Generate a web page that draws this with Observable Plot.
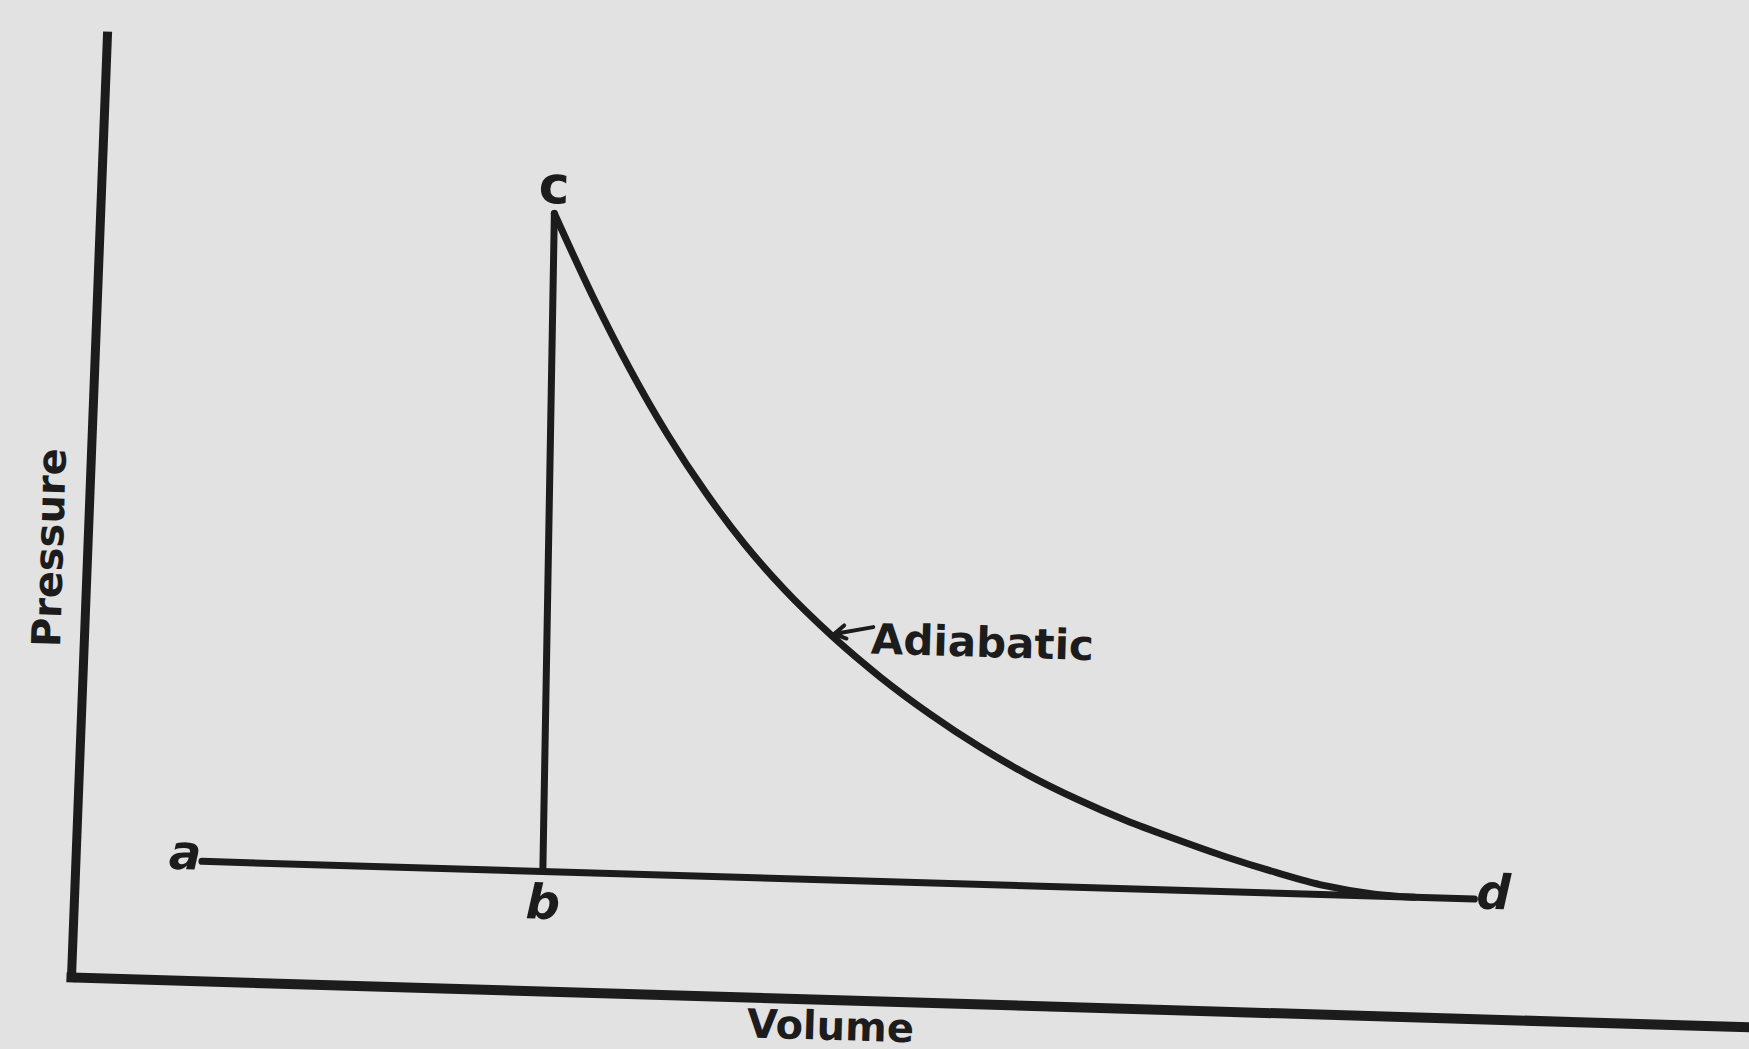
<!DOCTYPE html>
<html>
<head>
<meta charset="utf-8">
<script src="https://cdn.jsdelivr.net/npm/d3@7"></script>
<script src="https://cdn.jsdelivr.net/npm/@observablehq/plot@0.6"></script>
<style>
  html, body { margin: 0; padding: 0; background: #e2e2e2; width: 1749px; height: 1049px; overflow: hidden; }
  #chart { position: relative; width: 1749px; height: 1049px; }
  #chart svg { position: absolute; left: 0; top: 0; overflow: visible; transform-origin: 71px 977px; transform: rotate(1.7deg); }
</style>
</head>
<body>
<div id="chart"></div>
<script>
// Axis extents (volume, pressure units)
const xAxisVolume = [0, 16.8];
const xAxisPressure = [0, 0];
const yAxisVolume = [0, 0.08];
const yAxisPressure = [0, 9.42];

// Line a–d (constant pressure)
const lineAdVolume = [1.27, 14.0];
const lineAdPressure = [1.2, 1.2];

// Line b–c (constant volume)
const lineBcVolume = [4.68, 4.60];
const lineBcPressure = [1.2, 7.78];

// Adiabatic curve c–d
const curveVolume   = [4.60, 5.0, 5.4, 5.8, 6.2, 6.6, 7.0, 7.5, 8.0, 8.5, 9.0, 9.5, 10.0, 10.5, 11.0, 11.5, 12.0, 12.5, 13.0, 13.4];
const curvePressure = [7.78, 6.98, 6.25, 5.60, 5.03, 4.53, 4.10, 3.64, 3.24, 2.89, 2.58, 2.31, 2.08, 1.88, 1.71, 1.55, 1.41, 1.29, 1.22, 1.20];

// Point labels
const pointLabels   = ["a", "b", "c", "d"];
const pointVolume   = [1.10, 4.69, 4.59, 14.19];
const pointPressure = [1.27, 0.88, 8.05, 1.26];
const pointItalic   = [true, true, false, true];

// Curve label and its leader
const curveLabel = "Adiabatic";
const curveLabelVolume = 7.89;
const curveLabelPressure = 3.61;
const leaderVolume = [7.91, 7.52];
const leaderPressure = [3.74, 3.66];

// Axis titles
const axisTitles = ["Pressure", "Volume"];
const axisTitleVolume = [-0.34, 7.60];
const axisTitlePressure = [4.29, -0.27];
const axisTitleRotate = [-90, 0];

const ink = "#1c1c1c";
const pairs = (xs, ys) => xs.map((x, i) => ({v: x, p: ys[i]}));

const xAxisData = pairs(xAxisVolume, xAxisPressure);
const yAxisData = pairs(yAxisVolume, yAxisPressure);
const adData = pairs(lineAdVolume, lineAdPressure);
const bcData = pairs(lineBcVolume, lineBcPressure);
const curveData = pairs(curveVolume, curvePressure);
const labelData = pointLabels.map((t, i) => ({t, v: pointVolume[i], p: pointPressure[i], it: pointItalic[i]}));
const titleData = axisTitles.map((t, i) => ({t, v: axisTitleVolume[i], p: axisTitlePressure[i], r: axisTitleRotate[i]}));
const leaderData = [{x1: leaderVolume[0], y1: leaderPressure[0], x2: leaderVolume[1], y2: leaderPressure[1]}];

const chart = Plot.plot({
  width: 1749,
  height: 1049,
  marginLeft: 71,
  marginRight: 0,
  marginTop: 0,
  marginBottom: 72,
  x: {domain: [0, 16.78], axis: null},
  y: {domain: [0, 9.77], axis: null},
  style: {background: "transparent", overflow: "visible"},
  marks: [
    Plot.line(xAxisData, {x: "v", y: "p", stroke: ink, strokeWidth: 10, strokeLinecap: "square"}),
    Plot.line(yAxisData, {x: "v", y: "p", stroke: ink, strokeWidth: 9, strokeLinecap: "square"}),
    Plot.line(adData, {x: "v", y: "p", stroke: ink, strokeWidth: 7, strokeLinecap: "round"}),
    Plot.line(bcData, {x: "v", y: "p", stroke: ink, strokeWidth: 7, strokeLinecap: "round"}),
    Plot.line(curveData, {x: "v", y: "p", stroke: ink, strokeWidth: 7, curve: "monotone-x", strokeLinecap: "round"}),
    Plot.arrow(leaderData, {x1: "x1", y1: "y1", x2: "x2", y2: "y2", stroke: ink, strokeWidth: 4, headLength: 10, insetStart: 0, insetEnd: 0}),
    Plot.text(labelData.filter(d => d.it), {x: "v", y: "p", text: "t", fill: ink, fontSize: 48, fontWeight: "bold", fontStyle: "italic", fontFamily: "DejaVu Sans", textAnchor: "middle", lineAnchor: "middle"}),
    Plot.text(labelData.filter(d => !d.it), {x: "v", y: "p", text: "t", fill: ink, fontSize: 52, fontWeight: "bold", fontFamily: "DejaVu Sans", textAnchor: "middle", lineAnchor: "middle"}),
    Plot.text([curveLabel], {x: () => curveLabelVolume, y: () => curveLabelPressure, text: d => d, fill: ink, fontSize: 42, fontWeight: "bold", fontFamily: "DejaVu Sans", textAnchor: "start", lineAnchor: "middle"}),
    Plot.text(titleData, {x: "v", y: "p", text: "t", rotate: "r", fill: ink, fontSize: 40, fontWeight: "bold", fontFamily: "DejaVu Sans", textAnchor: "middle", lineAnchor: "middle"})
  ]
});

document.getElementById("chart").appendChild(chart);
</script>
</body>
</html>
